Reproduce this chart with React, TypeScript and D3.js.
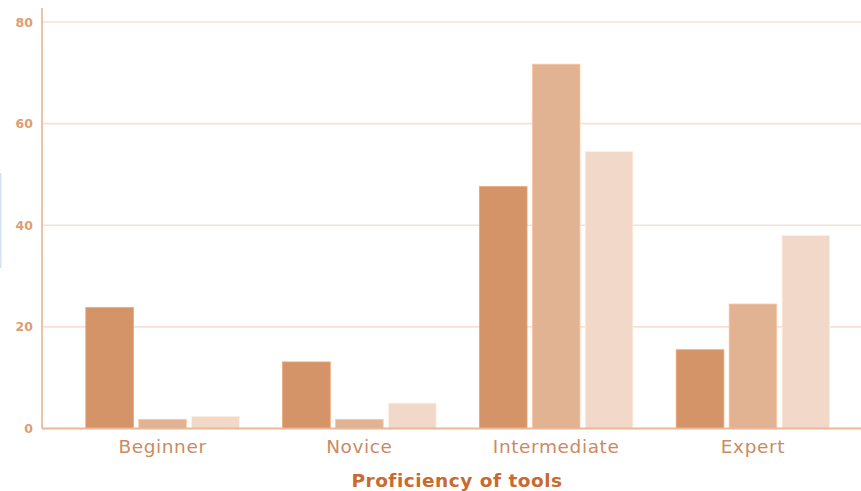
import React, { useEffect, useRef } from "react";
import * as d3 from "d3";

const categories = ["Beginner", "Novice", "Intermediate", "Expert"];
const seriesKeys = ["a", "b", "c"];
const seriesA = [23.8, 13.1, 47.6, 15.5];
const seriesB = [1.8, 1.8, 71.7, 24.5];
const seriesC = [2.4, 5.0, 54.5, 38.0];
const yTicks = [0, 20, 40, 60, 80];
const axisTitle = "Proficiency of tools";

const colors = ["#d59467", "#e2b393", "#f1d8c8"];

const W = 861;
const H = 491;

export default function App() {
  const ref = useRef<SVGSVGElement | null>(null);

  useEffect(() => {
    document.body.style.margin = "0";
    const svg = d3.select(ref.current);
    svg.selectAll("*").remove();

    const left = 42;
    const y = d3.scaleLinear().domain([0, 80]).range([428.5, 22]);
    const x0 = d3
      .scaleBand<string>()
      .domain(categories)
      .range([left + 0.5, 873])
      .paddingInner(0.22)
      .paddingOuter(0.22);
    const x1 = d3
      .scaleBand<string>()
      .domain(seriesKeys)
      .range([0, x0.bandwidth()])
      .paddingInner(0.1);

    const values = [seriesA, seriesB, seriesC];
    const rows = categories.map((c, i) => ({
      cat: c,
      vals: seriesKeys.map((k, j) => ({ key: k, idx: j, v: values[j][i] })),
    }));

    svg.append("rect").attr("width", W).attr("height", H).attr("fill", "#ffffff");

    // thin blue mark at the left edge
    svg
      .append("rect")
      .attr("x", 0)
      .attr("y", 173)
      .attr("width", 1.5)
      .attr("height", 95)
      .attr("fill", "#d3e2f2");

    // gridlines
    svg
      .append("g")
      .selectAll("line")
      .data(yTicks.filter((t) => t > 0))
      .join("line")
      .attr("x1", left)
      .attr("x2", W)
      .attr("y1", (d) => y(d))
      .attr("y2", (d) => y(d))
      .attr("stroke", "#f7e1d4")
      .attr("stroke-width", 1.6);

    // bars
    const g = svg
      .append("g")
      .selectAll("g")
      .data(rows)
      .join("g")
      .attr("transform", (d) => `translate(${x0(d.cat)},0)`);
    g.selectAll("rect")
      .data((d) => d.vals)
      .join("rect")
      .attr("x", (d) => x1(d.key)!)
      .attr("y", (d) => y(d.v))
      .attr("width", x1.bandwidth())
      .attr("height", (d) => y(0) - y(d.v))
      .attr("fill", (d) => colors[d.idx])
      .attr("stroke", (d) => d3.color(colors[d.idx])!.brighter(0.3).formatHex())
      .attr("stroke-width", 0.8);

    // axes lines
    svg
      .append("line")
      .attr("x1", left)
      .attr("x2", left)
      .attr("y1", 8)
      .attr("y2", y(0))
      .attr("stroke", "#edc3a6")
      .attr("stroke-width", 2);
    svg
      .append("line")
      .attr("x1", left)
      .attr("x2", W)
      .attr("y1", y(0))
      .attr("y2", y(0))
      .attr("stroke", "#e8b898")
      .attr("stroke-width", 2);

    // y tick labels
    svg
      .append("g")
      .selectAll("text")
      .data(yTicks)
      .join("text")
      .attr("x", 33)
      .attr("y", (d) => y(d))
      .attr("dy", "0.36em")
      .attr("text-anchor", "end")
      .attr("font-family", "DejaVu Sans, sans-serif")
      .attr("font-size", 12.5)
      .attr("font-weight", "bold")
      .attr("fill", "#de9d72")
      .text((d) => d);

    // category labels
    svg
      .append("g")
      .selectAll("text")
      .data(categories)
      .join("text")
      .attr("x", (d) => x0(d)! + x0.bandwidth() / 2)
      .attr("y", 452.5)
      .attr("text-anchor", "middle")
      .attr("font-family", "DejaVu Sans, sans-serif")
      .attr("font-size", 18.5)
      .attr("letter-spacing", 0.6)
      .attr("fill", "#cb8a62")
      .text((d) => d);

    // axis title
    svg
      .append("text")
      .attr("x", 457)
      .attr("y", 487)
      .attr("text-anchor", "middle")
      .attr("font-family", "DejaVu Sans, sans-serif")
      .attr("font-size", 18.5)
      .attr("letter-spacing", 0.5)
      .attr("font-weight", "bold")
      .attr("fill", "#c96a30")
      .text(axisTitle);
  }, []);

  return (
    <svg
      ref={ref}
      width={W}
      height={H}
      style={{ display: "block", position: "absolute", left: 0, top: 0 }}
    />
  );
}
